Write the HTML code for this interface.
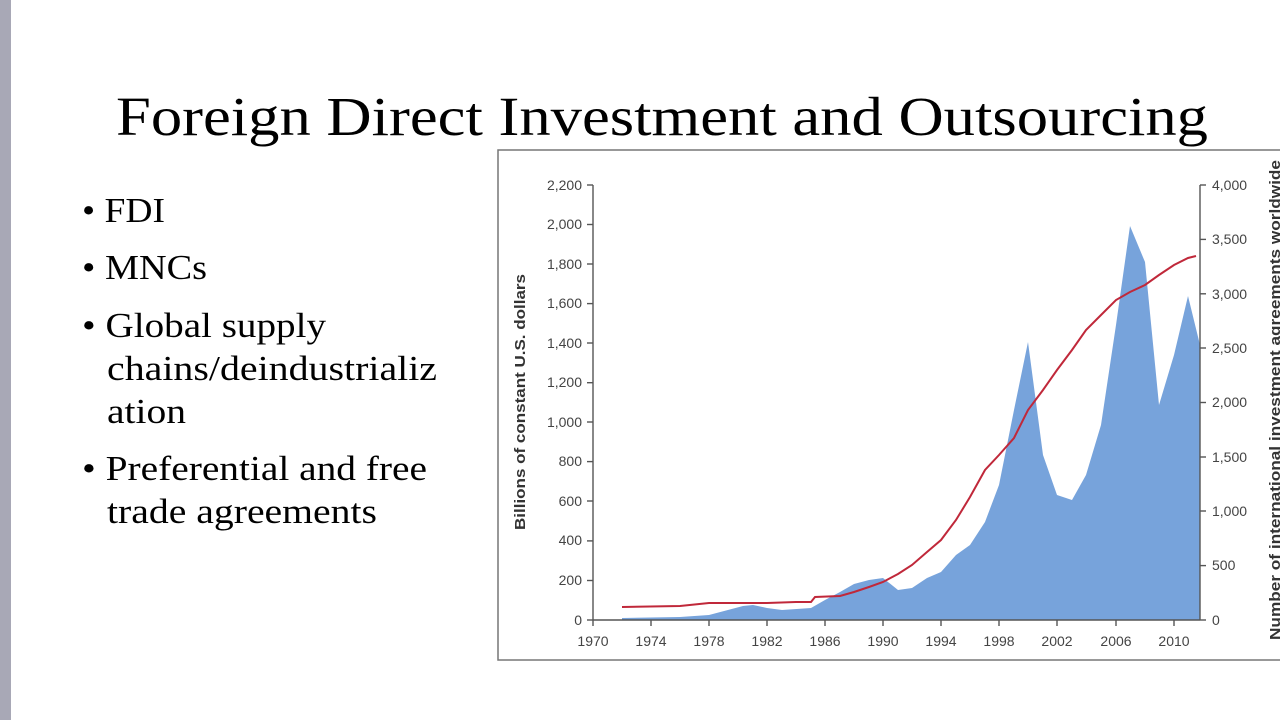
<!DOCTYPE html>
<html><head><meta charset="utf-8"><style>
html,body{margin:0;padding:0;background:#fff;}
body{width:1280px;height:720px;overflow:hidden;position:relative;}
</style></head><body>
<svg width="1280" height="720" viewBox="0 0 1280 720" xmlns="http://www.w3.org/2000/svg" style="position:absolute;left:0;top:0">
<rect x="0" y="0" width="1280" height="720" fill="#fff"/>
<rect x="0" y="0" width="11" height="720" fill="#a8a8b6"/>
<text x="662" y="135" text-anchor="middle" font-family="Liberation Serif, serif" font-size="55" fill="#000" textLength="1092" lengthAdjust="spacingAndGlyphs">Foreign Direct Investment and Outsourcing</text>
<g font-family="Liberation Serif, serif" font-size="35" fill="#000">
<text x="82" y="222" textLength="83" lengthAdjust="spacingAndGlyphs">• FDI</text>
<text x="82" y="279" textLength="125" lengthAdjust="spacingAndGlyphs">• MNCs</text>
<text x="82" y="337" textLength="244" lengthAdjust="spacingAndGlyphs">• Global supply</text>
<text x="107" y="380" textLength="330" lengthAdjust="spacingAndGlyphs">chains/deindustrializ</text>
<text x="107" y="423" textLength="79" lengthAdjust="spacingAndGlyphs">ation</text>
<text x="82" y="480" textLength="345" lengthAdjust="spacingAndGlyphs">• Preferential and free</text>
<text x="107" y="523" textLength="270" lengthAdjust="spacingAndGlyphs">trade agreements</text>
</g>
<rect x="498" y="150" width="790" height="510" fill="#fff" stroke="#777" stroke-width="1.5"/>
<path fill="#77a3db" d="M622,620 L622,618 L680,617 L709,615 L743,606 L753,605 L767,608 L782,610 L811,608 L825,600 L840,592 L854,584 L869,580 L883,578 L898,590 L912,588 L927,578 L941,572 L956,555 L970,545 L985,522 L999,485 L1014,410 L1028,342 L1043,455 L1057,495 L1072,500 L1086,475 L1101,425 L1116,325 L1130,226 L1145,262 L1159,405 L1174,355 L1188,296 L1200,345 L1200,620 Z"/>
<polyline fill="none" stroke="#c0283a" stroke-width="2" points="622,607 680,606 709,603 767,603 796,602 811,602 815,597 840,596 854,592 869,587 883,582 898,574 912,565 927,552 941,540 956,520 970,497 985,470 999,455 1014,438 1028,410 1043,390 1057,370 1072,350 1086,330 1101,315 1116,300 1130,292 1145,285 1159,275 1174,265 1188,258 1196,256"/>
<g stroke="#555" stroke-width="1.4" fill="none">
<line x1="593" y1="185" x2="593" y2="620"/>
<line x1="593" y1="620" x2="1200" y2="620"/>
<line x1="1200" y1="185" x2="1200" y2="620"/>
</g>
<g stroke="#555" stroke-width="1.4">
<line x1="587" y1="185" x2="593" y2="185"/><line x1="587" y1="224.5" x2="593" y2="224.5"/><line x1="587" y1="264" x2="593" y2="264"/><line x1="587" y1="303.6" x2="593" y2="303.6"/><line x1="587" y1="343" x2="593" y2="343"/><line x1="587" y1="382.7" x2="593" y2="382.7"/><line x1="587" y1="422" x2="593" y2="422"/><line x1="587" y1="461.6" x2="593" y2="461.6"/><line x1="587" y1="501" x2="593" y2="501"/><line x1="587" y1="540.9" x2="593" y2="540.9"/><line x1="587" y1="580.5" x2="593" y2="580.5"/><line x1="587" y1="620" x2="593" y2="620"/>
<line x1="1200" y1="185" x2="1206" y2="185"/><line x1="1200" y1="239.4" x2="1206" y2="239.4"/><line x1="1200" y1="293.8" x2="1206" y2="293.8"/><line x1="1200" y1="348" x2="1206" y2="348"/><line x1="1200" y1="402.5" x2="1206" y2="402.5"/><line x1="1200" y1="457" x2="1206" y2="457"/><line x1="1200" y1="511" x2="1206" y2="511"/><line x1="1200" y1="565.6" x2="1206" y2="565.6"/><line x1="1200" y1="620" x2="1206" y2="620"/>
<line x1="593" y1="620" x2="593" y2="626"/><line x1="651" y1="620" x2="651" y2="626"/><line x1="709" y1="620" x2="709" y2="626"/><line x1="767" y1="620" x2="767" y2="626"/><line x1="825" y1="620" x2="825" y2="626"/><line x1="883" y1="620" x2="883" y2="626"/><line x1="941" y1="620" x2="941" y2="626"/><line x1="999" y1="620" x2="999" y2="626"/><line x1="1057" y1="620" x2="1057" y2="626"/><line x1="1116" y1="620" x2="1116" y2="626"/><line x1="1174" y1="620" x2="1174" y2="626"/>
</g>
<g font-family="Liberation Sans, sans-serif" font-size="14" fill="#444" text-anchor="end">
<text x="582" y="190">2,200</text><text x="582" y="229">2,000</text><text x="582" y="269">1,800</text><text x="582" y="308">1,600</text><text x="582" y="348">1,400</text><text x="582" y="387">1,200</text><text x="582" y="427">1,000</text><text x="582" y="466">800</text><text x="582" y="506">600</text><text x="582" y="545">400</text><text x="582" y="585">200</text><text x="582" y="625">0</text>
</g>
<g font-family="Liberation Sans, sans-serif" font-size="14" fill="#444">
<text x="1212" y="190">4,000</text><text x="1212" y="244">3,500</text><text x="1212" y="299">3,000</text><text x="1212" y="353">2,500</text><text x="1212" y="407">2,000</text><text x="1212" y="462">1,500</text><text x="1212" y="516">1,000</text><text x="1212" y="570">500</text><text x="1212" y="625">0</text>
</g>
<g font-family="Liberation Sans, sans-serif" font-size="14" fill="#444" text-anchor="middle">
<text x="593" y="646">1970</text><text x="651" y="646">1974</text><text x="709" y="646">1978</text><text x="767" y="646">1982</text><text x="825" y="646">1986</text><text x="883" y="646">1990</text><text x="941" y="646">1994</text><text x="999" y="646">1998</text><text x="1057" y="646">2002</text><text x="1116" y="646">2006</text><text x="1174" y="646">2010</text>
</g>
<text transform="translate(525,402) rotate(-90)" text-anchor="middle" font-family="Liberation Sans, sans-serif" font-size="15" font-weight="bold" fill="#333" textLength="256" lengthAdjust="spacingAndGlyphs">Billions of constant U.S. dollars</text>
<text transform="translate(1280,640) rotate(-90)" text-anchor="start" font-family="Liberation Sans, sans-serif" font-size="15" font-weight="bold" fill="#333" textLength="480" lengthAdjust="spacingAndGlyphs">Number of international investment agreements worldwide</text>
</svg>
</body></html>
